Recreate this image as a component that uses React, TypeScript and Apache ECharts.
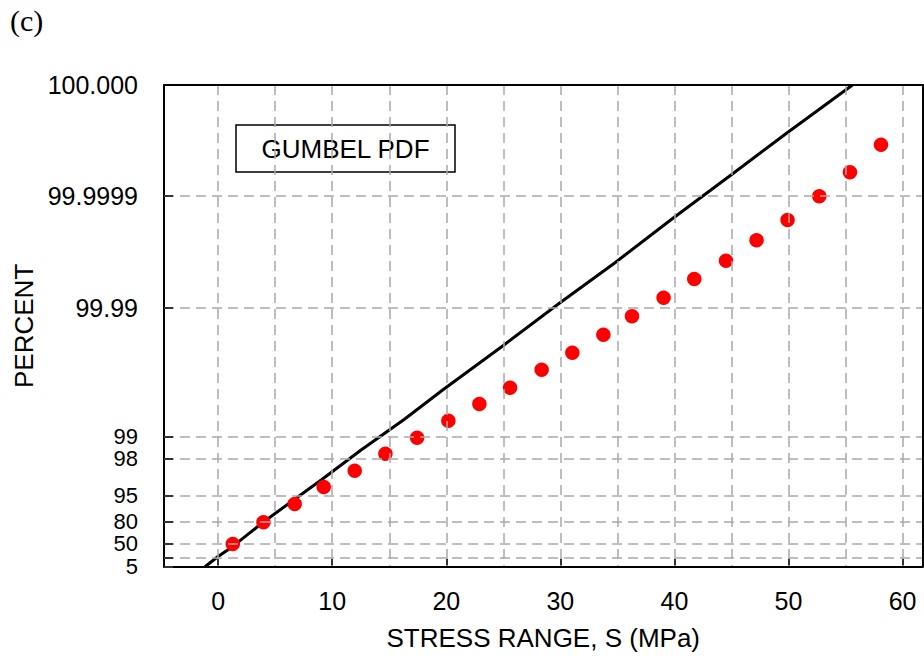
import React, { useEffect, useRef } from 'react';
import * as echarts from 'echarts';

// X axis (stress range, MPa)
const stressLabelValues = [0, 10, 20, 30, 40, 50, 60];
const stressGridValues = [0, 5, 10, 15, 20, 25, 30, 35, 40, 45, 50, 55, 60];

// Y axis: probability paper ordinate (reduced variate units) and its percent labels
const percentLabels = ['5', '50', '80', '95', '98', '99', '99.99', '99.9999', '100.000'];
const percentPositions = [0, 0.92, 1.8, 2.83, 4.31, 5.2, 10.34, 14.83, 19.27];
const percentGridExtra = [0.36];

// Fitted Gumbel line
const fitStress = [-1.16, -0.04, 1.25, 3.97, 9.03, 12.53, 16.33, 19.68, 24.94, 29.91, 34.73, 39.84, 44.96, 49.83, 54.92, 55.62];
const fitOrdinate = [0, 0.4, 0.8, 1.79, 3.47, 4.67, 5.9, 7.07, 8.83, 10.54, 12.14, 13.93, 15.67, 17.34, 19.04, 19.27];

// Observed data (red dots)
const obsStress = [1.28, 3.97, 6.71, 9.25, 11.97, 14.66, 17.44, 20.18, 22.9, 25.59, 28.36, 31.05, 33.77, 36.28, 39.05, 41.74, 44.52, 47.2, 49.92, 52.7, 55.39, 58.11];
const obsOrdinate = [0.91, 1.78, 2.51, 3.19, 3.84, 4.52, 5.16, 5.84, 6.51, 7.16, 7.88, 8.56, 9.28, 10.02, 10.76, 11.51, 12.24, 13.06, 13.87, 14.82, 15.78, 16.88];

const X_MIN = -4.75;
const X_MAX = 61.75;
const Y_MIN = 0;
const Y_MAX = 19.27;

export default function App() {
  const ref = useRef<HTMLDivElement>(null);

  useEffect(() => {
    document.body.style.margin = '0';
    const chart = echarts.init(ref.current as HTMLDivElement, null, { renderer: 'svg' });
    const font = 'Liberation Sans';
    const gridColor = '#a9a9a9';
    // grid lines / ticks inside the frame (top edge is the frame itself)
    const tickValues = [...percentPositions, ...percentGridExtra]
      .filter((v) => v < Y_MAX - 1e-6)
      .sort((a, b) => a - b);
    // labels are split over two overlapping left axes so neighbours are never auto-hidden
    const labelsA = percentPositions.filter((_, i) => i % 2 === 0);
    const labelsB = percentPositions.filter((_, i) => i % 2 === 1);
    const fmt = (v: number) => {
      const i = percentPositions.findIndex((p) => Math.abs(p - v) < 1e-6);
      if (i < 0) return '';
      return i >= 6 ? '{big|' + percentLabels[i] + '}' : '{small|' + percentLabels[i] + '}';
    };
    const yLabelStyle = {
      showMinLabel: true,
      showMaxLabel: true,
      color: '#000',
      fontSize: 22,
      lineHeight: 20,
      fontFamily: font,
      margin: 26,
      formatter: fmt,
      rich: {
        big: { fontSize: 25, lineHeight: 24, fontFamily: font, color: '#000' },
        small: { fontSize: 22, lineHeight: 20, fontFamily: font, color: '#000' },
      },
    };

    const option: any = {
      animation: false,
      backgroundColor: '#ffffff',
      grid: {
        left: 164,
        right: 1.5,
        top: 85,
        bottom: 92.3,
        show: false,
      },
      xAxis: [
        {
          type: 'value',
          min: X_MIN,
          max: X_MAX,
          position: 'bottom',
          axisLine: { show: true, onZero: false, lineStyle: { color: '#000', width: 2 } },
          axisTick: { show: false, customValues: stressGridValues },
          splitLine: { show: true, lineStyle: { color: gridColor, type: [10, 6], width: 1.5 } },
          axisLabel: {
            customValues: stressLabelValues,
            color: '#000',
            fontSize: 25,
            fontFamily: font,
            margin: 22,
          },
          name: 'STRESS RANGE, S (MPa)',
          nameLocation: 'middle',
          nameGap: 58,
          nameTextStyle: { color: '#000', fontSize: 26, fontFamily: font },
          z: 5,
        },
        {
          type: 'value',
          min: X_MIN,
          max: X_MAX,
          position: 'bottom',
          axisLine: { show: false },
          axisTick: {
            show: true,
            inside: true,
            length: 8,
            customValues: stressLabelValues,
            lineStyle: { color: '#333', width: 2 },
          },
          axisLabel: { show: false },
          splitLine: { show: false },
        },
        {
          type: 'value',
          min: X_MIN,
          max: X_MAX,
          position: 'top',
          axisLine: { show: true, onZero: false, lineStyle: { color: '#000', width: 2 } },
          axisTick: { show: false },
          axisLabel: { show: false },
          splitLine: { show: false },
          z: 5,
        },
      ],
      yAxis: [
        {
          type: 'value',
          min: Y_MIN,
          max: Y_MAX,
          position: 'left',
          axisLine: { show: true, onZero: false, lineStyle: { color: '#000', width: 2 } },
          axisTick: {
            show: true,
            inside: true,
            length: 9,
            customValues: tickValues,
            lineStyle: { color: '#333', width: 2 },
          },
          splitLine: { show: true, lineStyle: { color: gridColor, type: [10, 6], width: 1.5 } },
          axisLabel: { ...yLabelStyle, customValues: labelsA },
          name: 'PERCENT',
          nameLocation: 'middle',
          nameGap: 82,
          nameRotate: 90,
          nameTextStyle: { color: '#000', fontSize: 26, fontFamily: font },
          z: 5,
        },
        {
          type: 'value',
          min: Y_MIN,
          max: Y_MAX,
          position: 'right',
          axisLine: { show: true, onZero: false, lineStyle: { color: '#000', width: 2 } },
          axisTick: { show: false },
          axisLabel: { show: false },
          splitLine: { show: false },
          z: 5,
        },
        {
          type: 'value',
          min: Y_MIN,
          max: Y_MAX,
          position: 'left',
          offset: 0,
          axisLine: { show: false },
          axisTick: { show: false },
          splitLine: { show: false },
          axisLabel: { ...yLabelStyle, customValues: labelsB },
        },
      ],
      series: [
        {
          type: 'line',
          name: 'Gumbel fit',
          xAxisIndex: 0,
          yAxisIndex: 0,
          data: fitStress.map((s, i) => [s, fitOrdinate[i]]),
          showSymbol: false,
          symbol: 'none',
          lineStyle: { color: '#000', width: 3 },
          clip: true,
          z: 3,
        },
        {
          type: 'scatter',
          name: 'Data',
          xAxisIndex: 0,
          yAxisIndex: 0,
          data: obsStress.map((s, i) => [s, obsOrdinate[i]]),
          symbol: 'circle',
          symbolSize: 14.5,
          itemStyle: { color: '#ff0000', opacity: 1 },
          z: 4,
        },
      ],
      graphic: [
        {
          type: 'text',
          left: 10,
          top: 5,
          style: { text: '(c)', fontSize: 30, fontFamily: 'Liberation Serif', fill: '#000' },
        },
        {
          type: 'group',
          z: 100,
          children: [
            {
              type: 'rect',
              shape: { x: 236, y: 125, width: 219, height: 47 },
              style: { fill: '#fff', stroke: '#000', lineWidth: 1.5 },
            },
            {
              type: 'text',
              x: 345.5,
              y: 149,
              style: {
                text: 'GUMBEL PDF',
                fontSize: 26,
                fontFamily: font,
                fill: '#000',
                align: 'center',
                verticalAlign: 'middle',
              },
            },
          ],
        },
      ],
    };

    chart.setOption(option);
    return () => {
      chart.dispose();
    };
  }, []);

  return (
    <div
      ref={ref}
      style={{ position: 'absolute', left: 0, top: 0, width: 924, height: 659, background: '#fff' }}
    />
  );
}
